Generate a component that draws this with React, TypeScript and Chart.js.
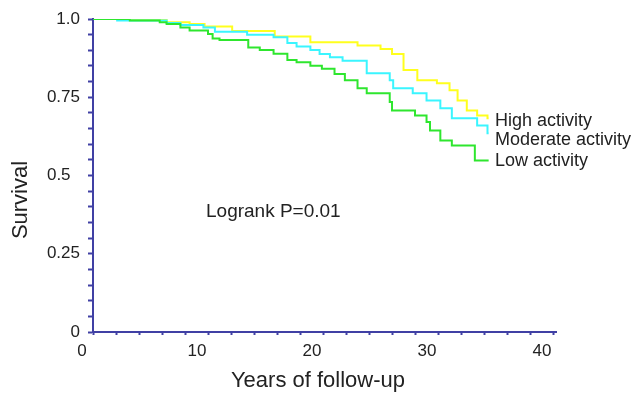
import React, { useEffect, useRef } from "react";
import { Chart, registerables } from "chart.js";

Chart.register(...registerables);

// ---- data (years of follow-up, survival) ----
const highTimes = [0, 3.2, 6.4, 8.4, 9.7, 12.1, 15.8, 18.9, 23.0, 25.0, 26.0, 27.0, 28.2, 29.9, 31.0, 31.7, 32.5, 33.4, 34.3, 34.4];
const highSurvival = [1.0, 0.997, 0.99, 0.984, 0.976, 0.962, 0.944, 0.926, 0.915, 0.904, 0.888, 0.837, 0.804, 0.795, 0.772, 0.74, 0.708, 0.692, 0.683, 0.683];

const moderateTimes = [0, 2.1, 6.4, 7.6, 9.6, 10.6, 13.4, 15.7, 16.9, 17.7, 18.9, 19.7, 20.6, 21.7, 23.8, 25.8, 26.1, 27.8, 29.0, 30.2, 31.2, 33.4, 34.3, 34.4];
const moderateSurvival = [1.0, 0.995, 0.987, 0.981, 0.973, 0.959, 0.95, 0.942, 0.923, 0.912, 0.901, 0.888, 0.878, 0.867, 0.827, 0.804, 0.779, 0.763, 0.74, 0.715, 0.683, 0.66, 0.635, 0.635];

const lowTimes = [0, 3.2, 5.8, 6.4, 7.6, 8.4, 10.0, 10.4, 11.0, 13.5, 14.5, 15.7, 16.9, 17.7, 18.9, 19.9, 21.0, 21.9, 23.0, 23.8, 25.8, 26.0, 28.0, 29.0, 29.3, 30.2, 31.2, 33.2, 34.4];
const lowSurvival = [1.0, 0.995, 0.99, 0.984, 0.973, 0.963, 0.952, 0.938, 0.933, 0.909, 0.901, 0.889, 0.869, 0.862, 0.851, 0.841, 0.824, 0.804, 0.779, 0.763, 0.735, 0.708, 0.692, 0.671, 0.644, 0.612, 0.596, 0.548, 0.548];

const seriesNames = ["High activity", "Moderate activity", "Low activity"];
const xTickLabels = [0, 10, 20, 30, 40];
const yTickLabels: Record<number, string> = { 0: "0", 25: "0.25", 50: "0.5  ", 75: "0.75", 100: "1.0" };
const xTitle = "Years of follow-up";
const yTitle = "Survival";
const logrankText = "Logrank P=0.01";

const FONT = "'Liberation Sans', Arial, Helvetica, sans-serif";
const TEXT = "#222222";
const AXIS = "#4040a4";

const toPoints = (t: number[], s: number[]) => t.map((x, i) => ({ x, y: s[i] }));

const textPlugin = {
  id: "kmText",
  afterDraw(chart: any) {
    const ctx = chart.ctx as CanvasRenderingContext2D;
    ctx.save();
    ctx.fillStyle = TEXT;
    ctx.textBaseline = "middle";

    ctx.font = `22px ${FONT}`;
    ctx.textAlign = "center";
    ctx.fillText(xTitle, 318, 381);

    ctx.save();
    ctx.translate(21, 200);
    ctx.rotate(-Math.PI / 2);
    ctx.fillText(yTitle, 0, 0);
    ctx.restore();

    ctx.textAlign = "left";
    ctx.font = `19px ${FONT}`;
    ctx.fillText(logrankText, 206, 212);

    ctx.font = `18px ${FONT}`;
    const ys = [121, 140, 161];
    seriesNames.forEach((n, i) => ctx.fillText(n, 495, ys[i]));
    ctx.restore();
  },
};

export default function App() {
  const ref = useRef<HTMLCanvasElement | null>(null);

  useEffect(() => {
    if (!ref.current) return;
    const chart = new Chart(ref.current, {
      type: "line",
      data: {
        datasets: [
          {
            label: seriesNames[2],
            data: toPoints(lowTimes, lowSurvival),
            borderColor: "#2ee62e",
            borderWidth: 2,
            stepped: true,
            pointRadius: 0,
            fill: false,
          },
          {
            label: seriesNames[1],
            data: toPoints(moderateTimes, moderateSurvival),
            borderColor: "#3af5ff",
            borderWidth: 2,
            stepped: true,
            pointRadius: 0,
            fill: false,
          },
          {
            label: seriesNames[0],
            data: toPoints(highTimes, highSurvival),
            borderColor: "#ffff1e",
            borderWidth: 2,
            stepped: true,
            pointRadius: 0,
            fill: false,
          },
        ],
      },
      options: {
        animation: false,
        responsive: false,
        devicePixelRatio: 1,
        layout: { padding: { top: 19, right: 77.5, left: 0, bottom: 0 } },
        plugins: { legend: { display: false }, tooltip: { enabled: false } },
        scales: {
          x: {
            type: "linear",
            min: 0,
            max: 40.3,
            bounds: "data",
            afterFit: (s: any) => {
              s.height = 66;
            },
            border: { display: true, color: AXIS, width: 2 },
            grid: { drawOnChartArea: false, drawTicks: true, tickLength: 3, color: AXIS, tickColor: AXIS, tickWidth: 2 },
            ticks: {
              stepSize: 2,
              autoSkip: false,
              includeBounds: false,
              maxRotation: 0,
              padding: 6,
              labelOffset: -11,
              color: TEXT,
              font: { family: FONT, size: 17 },
              callback: (v: any) => (xTickLabels.includes(Math.round(Number(v))) && Math.abs(Number(v) % 10) < 1e-6 ? String(Math.round(Number(v))) : ""),
            },
          },
          y: {
            type: "linear",
            min: 0,
            max: 1,
            afterFit: (s: any) => {
              s.width = 93;
            },
            border: { display: true, color: AXIS, width: 2 },
            grid: { drawOnChartArea: false, drawTicks: true, tickLength: 5, color: AXIS, tickColor: AXIS, tickWidth: 2 },
            ticks: {
              stepSize: 0.05,
              autoSkip: false,
              includeBounds: false,
              padding: 8,
              color: TEXT,
              font: { family: FONT, size: 17 },
              callback: (v: any) => {
                const k = Math.round(Number(v) * 100);
                return yTickLabels[k] !== undefined ? yTickLabels[k] : "";
              },
            },
          },
        },
      },
      plugins: [textPlugin],
    } as any);
    return () => chart.destroy();
  }, []);

  return (
    <div style={{ position: "absolute", left: 0, top: 0, width: 634, height: 398, background: "#fff" }}>
      <canvas ref={ref} width={634} height={398} style={{ display: "block" }} />
    </div>
  );
}
